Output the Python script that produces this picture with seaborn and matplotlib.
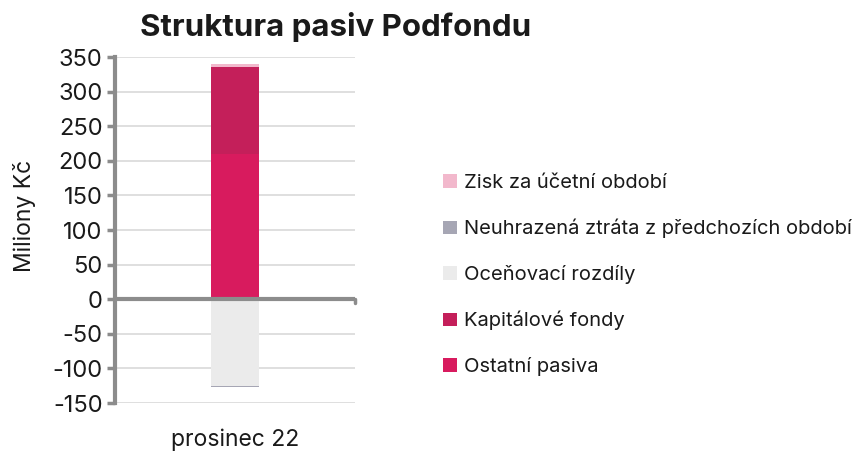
import matplotlib
matplotlib.use("Agg")
import matplotlib.pyplot as plt
import seaborn as sns
import pandas as pd
import numpy as np
from matplotlib.patches import Patch

categories = ["prosinec 22"]
series_names = ["Ostatní pasiva", "Kapitálové fondy", "Oceňovací rozdíly",
                "Neuhrazená ztráta z předchozích období", "Zisk za účetní období"]
ostatni_pasiva = [210.0]
kapitalove_fondy = [125.0]
ocenovaci_rozdily = [-126.0]
neuhrazena_ztrata = [-1.5]
zisk = [5.5]
colors = {"Ostatní pasiva": "#D81B5E", "Kapitálové fondy": "#C41F5A",
          "Oceňovací rozdíly": "#EBEBEB",
          "Neuhrazená ztráta z předchozích období": "#A6A6B4",
          "Zisk za účetní období": "#F2B8CC"}

sns.set_theme(style="white")
plt.rcParams['font.family'] = ['Inter', 'DejaVu Sans']
plt.rcParams['axes.unicode_minus'] = False

fig = plt.figure(figsize=(8.61, 4.54), dpi=100)
ax = fig.add_axes([0.1336, 0.1123, 0.2787, 0.7621])

pos_layers = [("Ostatní pasiva", ostatni_pasiva), ("Kapitálové fondy", kapitalove_fondy),
              ("Zisk za účetní období", zisk)]
neg_layers = [("Oceňovací rozdíly", ocenovaci_rozdily),
              ("Neuhrazená ztráta z předchozích období", neuhrazena_ztrata)]

def draw(layers):
    cum = np.zeros(len(categories))
    tops = []
    for name, vals in layers:
        cum = cum + np.array(vals)
        tops.append((name, cum.copy()))
    for name, top in reversed(tops):
        df = pd.DataFrame({"cat": categories, "val": top})
        sns.barplot(data=df, x="cat", y="val", color=colors[name], width=0.2,
                    saturation=1, ax=ax, zorder=3, edgecolor="none", linewidth=0)

draw(pos_layers)
draw(neg_layers)

ax.set_xlim(-0.5, 0.5)
ax.set_ylim(-150, 350)
ax.set_yticks(np.arange(-150, 351, 50))
ax.yaxis.grid(True, color="#D9D9D9", linewidth=1.2, zorder=0)
ax.set_axisbelow(True)
for s in ["top", "right", "bottom"]:
    ax.spines[s].set_visible(False)
ax.spines["left"].set_color("#8C8C8C")
ax.spines["left"].set_linewidth(3)
ax.axhline(0, color="#8C8C8C", linewidth=3, zorder=4)
ax.plot([0.5, 0.5], [0, -6], color="#8C8C8C", linewidth=2.5, clip_on=False, zorder=4)

ax.tick_params(axis="y", which="both", left=True, length=6, width=2.5, color="#8C8C8C",
               labelsize=17, labelcolor="#1A1A1A", pad=3)
ax.tick_params(axis="x", length=0, labelsize=16.5, labelcolor="#1A1A1A", pad=18)
ax.set_xlabel("")
ax.set_ylabel("Miliony Kč", fontsize=16.5, color="#1A1A1A", labelpad=2)
ax.yaxis.set_label_coords(-0.33, 0.54)

fig.text(0.39, 0.94, "Struktura pasiv Podfondu", ha="center", va="center",
         fontsize=22.5, fontweight="bold", color="#1A1A1A")

legend_order = ["Zisk za účetní období", "Neuhrazená ztráta z předchozích období",
                "Oceňovací rozdíly", "Kapitálové fondy", "Ostatní pasiva"]
handles = [Patch(facecolor=colors[n], edgecolor="none") for n in legend_order]
fig.legend(handles, legend_order, loc="center left", bbox_to_anchor=(0.494, 0.394),
           frameon=False, fontsize=14.5, handlelength=0.65, handleheight=0.65,
           handletextpad=0.35, labelspacing=1.33, labelcolor="#1A1A1A")

fig.savefig("out.png", dpi=100)
